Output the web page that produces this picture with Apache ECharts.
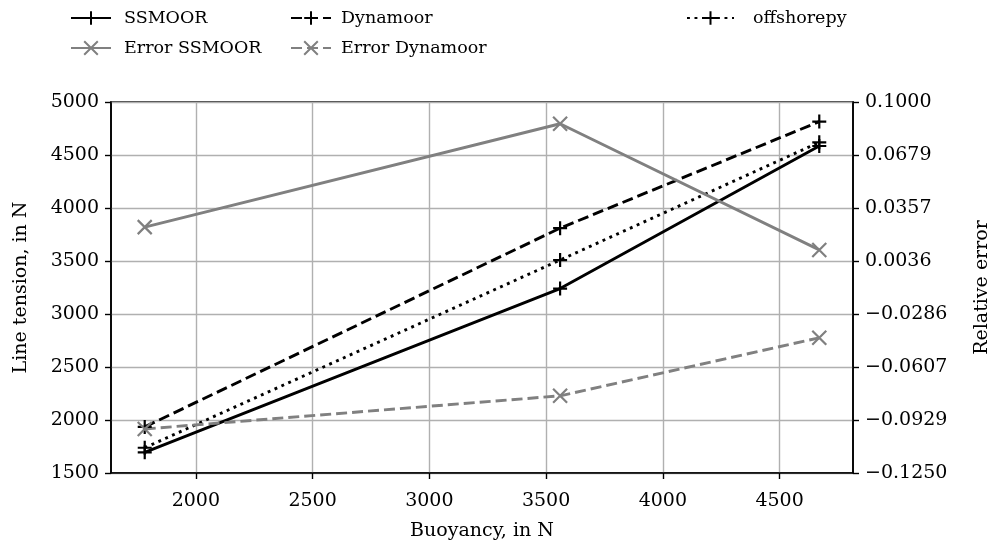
<!DOCTYPE html>
<html>
<head>
<meta charset="utf-8">
<script src="https://cdn.jsdelivr.net/npm/echarts@6/dist/echarts.min.js"></script>
<style>
  html, body { margin: 0; padding: 0; background: #fff; }
  #chart { width: 990px; height: 546px; }
</style>
</head>
<body>
<div id="chart"></div>
<script>
// Buoyancy values (x) and line tension results per solver
const buoyancy = [1781, 3560, 4670];
const ssmoor = [1695, 3240, 4585];
const dynamoor = [1935, 3810, 4815];
const offshorepy = [1738, 3509, 4620];
// Relative errors (right axis)
const errSsmoor = [0.0241, 0.0868, 0.0103];
const errDynamoor = [-0.0983, -0.0782, -0.0430];

// Tick labels
const xTicks = [2000, 2500, 3000, 3500, 4000, 4500];
const leftTicks = [1500, 2000, 2500, 3000, 3500, 4000, 4500, 5000];
const rightTicks = [-0.1250, -0.0929, -0.0607, -0.0286, 0.0036, 0.0357, 0.0679, 0.1000];

const FONT = 'DejaVu Serif';
const FS = 19;
const PLUS = 'path://M0,-6L0,6M-6,0L6,0';
const CROSS = 'path://M-5,-5L5,5M-5,5L5,-5';
const GRAY = '#808080';

// 5% padding on the x range
const xr = Math.max(...buoyancy) - Math.min(...buoyancy);
const xMin = Math.min(...buoyancy) - 0.05 * xr;
const xMax = Math.max(...buoyancy) + 0.05 * xr;

const pairs = (ys) => buoyancy.map((x, i) => [x, ys[i]]);

function series(name, ys, color, type, symbol, yAxisIndex) {
  return {
    name, type: 'line', yAxisIndex, data: pairs(ys),
    symbol, symbolSize: 14, showSymbol: true,
    lineStyle: { color, width: 2.9, type },
    itemStyle: { color, borderColor: color, borderWidth: 2.2 },
    emphasis: { disabled: true },
    animation: false
  };
}

function legend(name, left, top, width, pad) {
  return {
    data: [name], left, top,
    itemWidth: width, itemHeight: 17,
    textStyle: { fontFamily: FONT, fontSize: 17.5, color: '#000', padding: [0, 0, 0, pad] },
    selectedMode: false
  };
}

const axisText = { fontFamily: FONT, fontSize: FS, color: '#000' };

const chart = echarts.init(document.getElementById('chart'), null, { renderer: 'canvas' });
chart.setOption({
  backgroundColor: '#fff',
  animation: false,
  grid: { left: 111, right: 137, top: 102, bottom: 73, outerBoundsMode: 'none',
    show: true, borderColor: '#000', borderWidth: 1.6, backgroundColor: 'transparent' },
  legend: [
    legend('SSMOOR', 65, 4, 40, 8),
    legend('Dynamoor', 285, 4, 40, 5),
    legend('offshorepy', 681, 4, 47, 14),
    legend('Error SSMOOR', 65, 34, 40, 8),
    legend('Error Dynamoor', 285, 34, 40, 5)
  ],
  xAxis: {
    type: 'value', min: xMin, max: xMax,
    name: 'Buoyancy, in N', nameLocation: 'middle', nameGap: 49,
    nameTextStyle: axisText,
    axisLine: { onZero: false, lineStyle: { color: '#000', width: 1.6 } },
    axisTick: { show: true, length: 6, lineStyle: { color: '#000', width: 1.4 }, customValues: xTicks },
    axisLabel: Object.assign({ margin: 19, customValues: xTicks, formatter: (v) => String(v) }, axisText),
    splitLine: { show: true, lineStyle: { color: '#b0b0b0', width: 1.4 } }
  },
  yAxis: [
    {
      type: 'value', min: 1500, max: 5000, interval: 500, position: 'left',
      name: 'Line tension, in N', nameLocation: 'middle', nameGap: 80, nameRotate: 90,
      nameTextStyle: axisText,
      axisLine: { show: true, onZero: false, lineStyle: { color: '#000', width: 1.6 } },
      axisTick: { show: true, length: 6, lineStyle: { color: '#000', width: 1.4 } },
      axisLabel: Object.assign({ margin: 12, formatter: (v) => String(v) }, axisText),
      splitLine: { show: true, lineStyle: { color: '#b0b0b0', width: 1.4 } }
    },
    {
      type: 'value', min: -0.125, max: 0.1, position: 'right',
      name: 'Relative error', nameLocation: 'middle', nameGap: 120, nameRotate: 90,
      nameTextStyle: axisText,
      axisLine: { show: true, onZero: false, lineStyle: { color: '#000', width: 1.6 } },
      axisTick: { show: true, length: 6, lineStyle: { color: '#000', width: 1.4 }, customValues: rightTicks },
      axisLabel: Object.assign({ margin: 12, customValues: rightTicks,
        formatter: (v) => v.toFixed(4).replace('-', '\u2212') }, axisText),
      splitLine: { show: false }
    }
  ],
  series: [
    series('SSMOOR', ssmoor, '#000', 'solid', PLUS, 0),
    series('Dynamoor', dynamoor, '#000', [11, 5], PLUS, 0),
    series('offshorepy', offshorepy, '#000', [2.9, 4.6], PLUS, 0),
    series('Error SSMOOR', errSsmoor, GRAY, 'solid', CROSS, 1),
    series('Error Dynamoor', errDynamoor, GRAY, [11, 5], CROSS, 1)
  ]
});
</script>
</body>
</html>
